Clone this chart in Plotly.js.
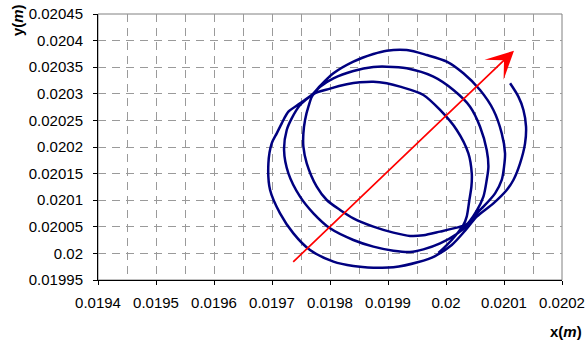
<!DOCTYPE html>
<html><head><meta charset="utf-8">
<script src="https://cdn.plot.ly/plotly-3.0.1.min.js"></script>
<style>html,body{margin:0;padding:0;background:#fff;} #chart{width:585px;height:340px;}</style>
</head><body><div id="chart"></div>
<script>
// Trajectory (x in m, y in m)
const xValues = [
 0.0199869,0.0200099,0.0200300,0.0200357,0.0200403,0.0200438,0.0200444,0.0200386,0.0200185,0.0199898,
 0.0199610,0.0199208,0.0198978,0.0198748,0.0198518,0.0198289,0.0198001,0.0197714,0.0197628,0.0197570,
 0.0197541,0.0197541,0.0197599,0.0197771,0.0197944,0.0198174,0.0198403,0.0198748,0.0199093,0.0199380,
 0.0199610,0.0199898,0.0200185,0.0200357,
 0.0200530,0.0200645,0.0200702,0.0200731,0.0200702,0.0200587,0.0200415,0.0200128,0.0199783,0.0199323,
 0.0198978,0.0198748,0.0198403,0.0198059,0.0197829,0.0197714,0.0197484,0.0197340,0.0197254,0.0197208,
 0.0197283,0.0197484,0.0197714,0.0198001,0.0198403,0.0198748,0.0199093,0.0199380,0.0199610,0.0199898,
 0.0200185,0.0200357,
 0.0200444,0.0200645,0.0200846,0.0200961,0.0201001,0.0201018,0.0200961,0.0200817,0.0200587,0.0200300,
 0.0200013,0.0199668,0.0199323,0.0198978,0.0198748,0.0198403,0.0198059,0.0197829,0.0197714,0.0197484,
 0.0197283,0.0197168,0.0197082,0.0196995,0.0196938,0.0196967,0.0197139,0.0197369,0.0197656,0.0198059,
 0.0198403,0.0198748,0.0199093,0.0199524,0.0199812,0.0200099,0.0200329,0.0200530,0.0200817,0.0201047,
 0.0201162,0.0201277,0.0201363,0.0201380,0.0201335,0.0201248,0.0201105
];
const yValues = [
 0.0200008,0.0200252,0.0200534,0.0200691,0.0201004,0.0201254,0.0201505,0.0201881,0.0202320,0.0202696,
 0.0202978,0.0203134,0.0203197,0.0203228,0.0203216,0.0203178,0.0203097,0.0202990,0.0202758,0.0202508,
 0.0202257,0.0202006,0.0201693,0.0201254,0.0201004,0.0200816,0.0200659,0.0200503,0.0200390,0.0200327,
 0.0200340,0.0200409,0.0200484,0.0200546,
 0.0200803,0.0201066,0.0201380,0.0201630,0.0201944,0.0202382,0.0202758,0.0203071,0.0203322,0.0203479,
 0.0203510,0.0203504,0.0203429,0.0203291,0.0203134,0.0203009,0.0202790,0.0202539,0.0202320,0.0201944,
 0.0201505,0.0201066,0.0200753,0.0200471,0.0200252,0.0200127,0.0200051,0.0200026,0.0200076,0.0200189,
 0.0200365,0.0200528,
 0.0200659,0.0200878,0.0201129,0.0201380,0.0201630,0.0201881,0.0202257,0.0202696,0.0203071,0.0203385,
 0.0203604,0.0203729,0.0203823,0.0203811,0.0203748,0.0203604,0.0203385,0.0203147,0.0203009,0.0202821,
 0.0202664,0.0202445,0.0202257,0.0202069,0.0201693,0.0201192,0.0200753,0.0200377,0.0200064,0.0199846,
 0.0199763,0.0199732,0.0199738,0.0199838,0.0199951,0.0200158,0.0200427,0.0200691,0.0200941,0.0201192,
 0.0201380,0.0201693,0.0202069,0.0202382,0.0202696,0.0202946,0.0203197
];

// Red direction arrow: [x, y] of tail and head
const arrowStart = [0.019734, 0.0199814];
const arrowEnd = [0.0201172, 0.020381];

// Axis ticks
const xTickVals = [0.0194,0.0195,0.0196,0.0197,0.0198,0.0199,0.0200,0.0201,0.0202];
const xTickText = ['0.0194','0.0195','0.0196','0.0197','0.0198','0.0199','0.02','0.0201','0.0202'];
const xMinorVals = [0.01945,0.01955,0.01965,0.01975,0.01985,0.01995,0.02005,0.02015];
const yTickVals = [0.01995,0.02,0.02005,0.0201,0.02015,0.0202,0.02025,0.0203,0.02035,0.0204,0.02045];
const yTickText = ['0.01995','0.02','0.02005','0.0201','0.02015','0.0202','0.02025','0.0203','0.02035','0.0204','0.02045'];

const FONT = 'Arial, "Liberation Sans", sans-serif';
const gridStyle = {gridcolor:'#9a9a9a', griddash:'8px,6px', gridwidth:1};

const trace = {
  x: xValues, y: yValues, type:'scatter', mode:'lines',
  line:{color:'#000080', width:2.5, shape:'spline', smoothing:0.8},
  hoverinfo:'skip'
};

const layout = {
  width:585, height:340,
  margin:{l:98, r:23, t:14, b:60, pad:0},
  paper_bgcolor:'#ffffff', plot_bgcolor:'#ffffff',
  showlegend:false,
  font:{family:FONT, size:15, color:'#000'},
  xaxis:Object.assign({
    range:[0.0194,0.0202], tickmode:'array', tickvals:xTickVals, ticktext:xTickText,
    showline:true, linecolor:'#000', linewidth:1,
    ticks:'outside', ticklen:4, tickcolor:'#000', tickwidth:1,
    showgrid:true, zeroline:false, fixedrange:true,
    ticklabelstandoff:5,
    tickfont:{family:FONT, size:15, color:'#000'},
    minor:Object.assign({tickmode:'array', tickvals:xMinorVals, showgrid:true, ticks:''}, gridStyle)
  }, gridStyle),
  yaxis:Object.assign({
    range:[0.01995,0.02045], tickmode:'array', tickvals:yTickVals, ticktext:yTickText,
    showline:true, linecolor:'#000', linewidth:1,
    ticks:'outside', ticklen:4, tickcolor:'#000', tickwidth:1,
    showgrid:true, zeroline:false, fixedrange:true,
    ticklabelstandoff:7,
    tickfont:{family:FONT, size:15, color:'#000'}
  }, gridStyle),
  shapes:[{type:'rect', xref:'paper', yref:'paper', x0:0, x1:1, y0:0, y1:1,
           line:{color:'#808080', width:1}, layer:'below'}],
  annotations:[
    {x:arrowEnd[0], y:arrowEnd[1], ax:arrowStart[0], ay:arrowStart[1],
     xref:'x', yref:'y', axref:'x', ayref:'y', text:'', showarrow:true,
     arrowhead:3, arrowsize:2.7, arrowwidth:1.7, arrowcolor:'#ff0000', standoff:0},
    {text:'<b>y(<i>m</i>)</b>', xref:'paper', yref:'paper', x:-0.1746, y:0.977,
     xanchor:'center', yanchor:'middle', textangle:-90, showarrow:false,
     font:{family:FONT, size:15, color:'#000'}},
    {text:'<b>x(<i>m</i>)</b>', xref:'paper', yref:'paper', x:1.047, y:-0.192,
     xanchor:'right', yanchor:'middle', showarrow:false,
     font:{family:FONT, size:15, color:'#000'}}
  ]
};

Plotly.newPlot('chart', [trace], layout, {displayModeBar:false, staticPlot:true});
</script>
</body></html>
